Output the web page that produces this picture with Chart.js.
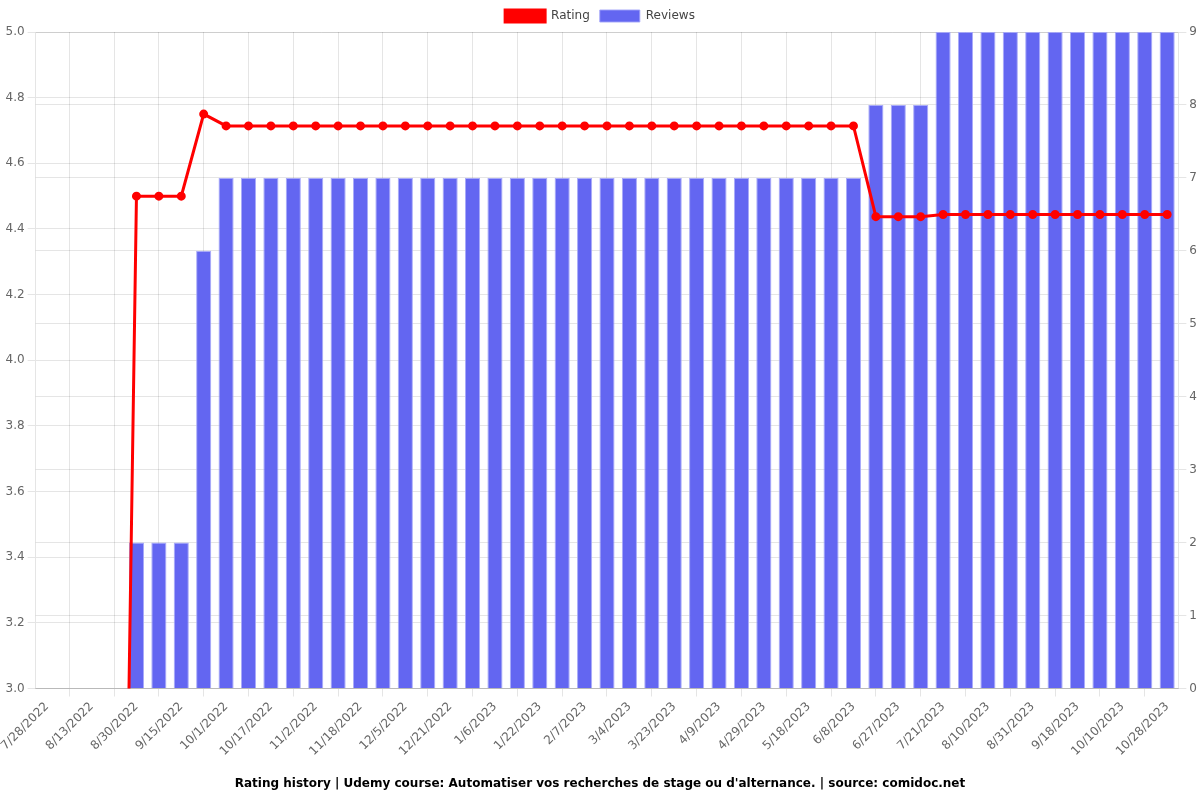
<!DOCTYPE html>
<html>
<head>
<meta charset="utf-8">
<script src="https://cdn.jsdelivr.net/npm/chart.js@4/dist/chart.umd.min.js"></script>
<style>
html,body{margin:0;padding:0;background:#fff;}
#wrap{width:1200px;height:800px;}
</style>
</head>
<body>
<div id="wrap"><canvas id="c" width="1200" height="800"></canvas></div>
<script>
const dates = ["7/28/2022","8/5/2022","8/13/2022","8/21/2022","8/30/2022","9/7/2022","9/15/2022","9/23/2022","10/1/2022","10/9/2022","10/17/2022","10/25/2022","11/2/2022","11/10/2022","11/18/2022","11/27/2022","12/5/2022","12/13/2022","12/21/2022","12/29/2022","1/6/2023","1/14/2023","1/22/2023","1/30/2023","2/7/2023","2/20/2023","3/4/2023","3/13/2023","3/23/2023","3/31/2023","4/9/2023","4/19/2023","4/29/2023","5/8/2023","5/18/2023","5/28/2023","6/8/2023","6/17/2023","6/27/2023","7/9/2023","7/21/2023","7/31/2023","8/10/2023","8/20/2023","8/31/2023","9/9/2023","9/18/2023","9/29/2023","10/10/2023","10/19/2023","10/28/2023"];
const rating = [0,0,0,0,4.5,4.5,4.5,4.75,4.714,4.714,4.714,4.714,4.714,4.714,4.714,4.714,4.714,4.714,4.714,4.714,4.714,4.714,4.714,4.714,4.714,4.714,4.714,4.714,4.714,4.714,4.714,4.714,4.714,4.714,4.714,4.714,4.714,4.4375,4.4375,4.4375,4.444,4.444,4.444,4.444,4.444,4.444,4.444,4.444,4.444,4.444,4.444];
const reviews = [0,0,0,0,2,2,2,6,7,7,7,7,7,7,7,7,7,7,7,7,7,7,7,7,7,7,7,7,7,7,7,7,7,7,7,7,7,8,8,8,9,9,9,9,9,9,9,9,9,9,9];
const titleText = "Rating history | Udemy course: Automatiser vos recherches de stage ou d'alternance. | source: comidoc.net";

Chart.defaults.font.family = "'DejaVu Sans', sans-serif";
Chart.defaults.font.size = 12;

new Chart(document.getElementById('c'), {
  type: 'bar',
  data: {
    labels: dates,
    datasets: [
      {
        type: 'line',
        label: 'Rating',
        data: rating,
        yAxisID: 'y',
        borderColor: '#ff0000',
        backgroundColor: '#ff0000',
        pointBackgroundColor: '#ff0000',
        pointBorderColor: '#ff0000',
        borderWidth: 3,
        pointRadius: 3,
        tension: 0
      },
      {
        type: 'bar',
        label: 'Reviews',
        data: reviews,
        yAxisID: 'y1',
        backgroundColor: '#6366f1',
        borderColor: 'rgba(160,162,248,0.9)',
        borderWidth: 1,
        barPercentage: 0.9,
        categoryPercentage: 0.75
      }
    ]
  },
  options: {
    responsive: false,
    animation: false,
    plugins: {
      legend: { position: 'top', labels: { color: '#444' } },
      title: {
        display: true,
        text: titleText,
        position: 'bottom',
        color: '#000',
        padding: { top: 15, bottom: 9 },
        font: { weight: 'bold', size: 12 }
      }
    },
    scales: {
      x: {
        ticks: { maxRotation: 45, minRotation: 45, color: '#666' }
      },
      y: {
        position: 'left',
        min: 3,
        max: 5,
        ticks: { stepSize: 0.2, color: '#666', callback: v => v.toFixed(1) }
      },
      y1: {
        position: 'right',
        min: 0,
        max: 9,
        ticks: { stepSize: 1, color: '#666' }
      }
    }
  }
});
</script>
</body>
</html>
